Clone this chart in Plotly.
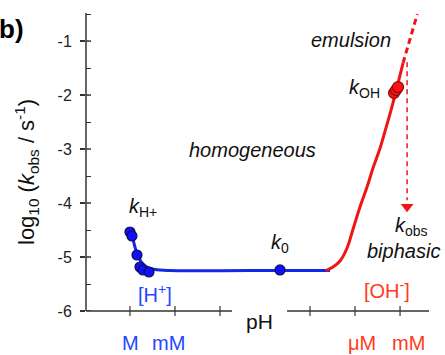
import plotly.graph_objects as go

# ---- data (schematic x: 3 units per decade; y: log10 kobs) ----
blue_fit_x = [0.0, 0.133, 0.333, 0.533, 0.8, 1.133, 1.667, 2.667, 8.0, 13.33]
blue_fit_y = [-4.46, -4.59, -4.815, -4.98, -5.11, -5.185, -5.23, -5.25, -5.25, -5.25]
red_fit_x = [13.07, 13.53, 14.0, 14.47, 14.87, 15.33, 15.8, 16.2, 16.67, 17.0, 17.4, 17.8, 18.2]
red_fit_y = [-5.25, -5.185, -5.074, -4.833, -4.481, -4.074, -3.704, -3.352, -2.981, -2.667, -2.278, -1.852, -1.407]
red_ext_x = [18.2, 19.15]
red_ext_y = [-1.407, -0.5]
h_pts_x = [0.0, 0.133, 0.467, 0.667, 0.867, 1.267]
h_pts_y = [-4.537, -4.611, -4.963, -5.185, -5.241, -5.278]
k0_x = [10.0]
k0_y = [-5.24]
oh_pts_x = [17.6, 17.733, 17.867]
oh_pts_y = [-1.963, -1.907, -1.852]
drop_x = [18.47, 18.47]
drop_y = [-1.39, -3.95]
head_x = [18.47]
head_y = [-4.07]

yticks = [-6, -5, -4, -3, -2, -1]
ytick_labels = ["-6", "-5", "-4", "-3", "-2", "-1"]
yminor = [-5.5, -4.5, -3.5, -2.5, -1.5, -0.5]
xticks = [0, 3, 6, 12, 15, 18]
xaxis_segments = [(-2.93, 6.8), (10.47, 19.93)]

BLUE = "#1428e6"
RED = "#f01414"
TXT_BLUE = "#2447ff"
TXT_RED = "#ff3a1a"
AX = "#333333"
FONT = "Liberation Sans"

fig = go.Figure()
fig.add_trace(go.Scatter(x=blue_fit_x, y=blue_fit_y, mode="lines",
                         line=dict(color=BLUE, width=3, shape="spline"), hoverinfo="skip"))
fig.add_trace(go.Scatter(x=red_fit_x, y=red_fit_y, mode="lines",
                         line=dict(color=RED, width=3, shape="spline"), hoverinfo="skip"))
fig.add_trace(go.Scatter(x=red_ext_x, y=red_ext_y, mode="lines",
                         line=dict(color=RED, width=3, dash="6px,4px"), hoverinfo="skip"))
fig.add_trace(go.Scatter(x=drop_x, y=drop_y, mode="lines",
                         line=dict(color=RED, width=1.5, dash="5px,4px"), hoverinfo="skip"))
fig.add_trace(go.Scatter(x=head_x, y=head_y, mode="markers",
                         marker=dict(symbol="triangle-down", size=11, color=RED, line=dict(width=0)),
                         hoverinfo="skip"))
fig.add_trace(go.Scatter(x=h_pts_x, y=h_pts_y, mode="markers",
                         marker=dict(size=10, color="#1010ff", line=dict(color="#101040", width=1.2))))
fig.add_trace(go.Scatter(x=k0_x, y=k0_y, mode="markers",
                         marker=dict(size=10, color="#1010ff", line=dict(color="#101040", width=1.2))))
fig.add_trace(go.Scatter(x=oh_pts_x, y=oh_pts_y, mode="markers",
                         marker=dict(size=11, color="#ff1010", line=dict(color="#801010", width=1.2))))

shapes = []
# y axis line
shapes.append(dict(type="line", xref="paper", yref="paper", x0=0, x1=0, y0=0, y1=1,
                   line=dict(color=AX, width=1.5)))
# inner halves of major y ticks
for v in yticks:
    shapes.append(dict(type="line", xref="paper", yref="y", x0=0, x1=5 / 343, y0=v, y1=v,
                       line=dict(color=AX, width=1.5)))
# x axis broken line
for a, b in xaxis_segments:
    shapes.append(dict(type="line", xref="x", yref="paper", x0=a, x1=b, y0=0, y1=0,
                       line=dict(color=AX, width=1.5)))
for v in xticks:
    shapes.append(dict(type="line", xref="x", yref="paper", x0=v, x1=v, y0=-5 / 298, y1=5 / 298,
                       line=dict(color=AX, width=1.2)))


def px(xp):
    return (xp - 86) / 343


def py(yp):
    return (311 - yp) / 298


ann = []


def add(text, x, y, size=20, color="#111111", **kw):
    ann.append(dict(text=text, x=px(x), y=py(y), xref="paper", yref="paper", showarrow=False,
                    font=dict(family=FONT, size=size, color=color), xanchor="center", yanchor="middle", **kw))


add("<b>b)</b>", 11, 29, size=26, color="#000000")
add("log<sub>10</sub> (<i>k</i><sub>obs</sub> / s<sup>-1</sup>)", 26, 172, size=22, textangle=-90)
add("<i>homogeneous</i>", 252, 150)
add("<i>emulsion</i>", 351, 40)
add("<i>k</i><sub>OH</sub>", 364, 89)
add("<i>k</i><sub>H+</sub>", 143, 207)
add("<i>k</i><sub>0</sub>", 280, 244)
add("<i>k</i><sub>obs</sub>", 411, 226)
add("<i>biphasic</i>", 403, 251)
add("[H<sup>+</sup>]", 155, 293, color=TXT_BLUE)
add("[OH<sup>-</sup>]", 387, 289, color=TXT_RED)
add("pH", 259, 321, size=21)
add("M", 130, 343, color=TXT_BLUE)
add("mM", 168, 343, color=TXT_BLUE)
add("μM", 362, 343, color=TXT_RED)
add("mM", 408, 343, color=TXT_RED)

fig.update_layout(
    width=445, height=355,
    margin=dict(l=86, r=16, t=13, b=44),
    paper_bgcolor="white", plot_bgcolor="white",
    showlegend=False,
    shapes=shapes, annotations=ann,
    font=dict(family=FONT, size=16, color="#222222"),
    xaxis=dict(range=[-2.93, 19.93], showgrid=False, zeroline=False, showline=False,
               showticklabels=False, ticks=""),
    yaxis=dict(range=[-6, -0.48], showgrid=False, zeroline=False, showline=False,
               tickmode="array", tickvals=yticks, ticktext=ytick_labels,
               ticks="outside", ticklen=5, tickwidth=1.5, tickcolor=AX,
               tickfont=dict(family=FONT, size=16, color="#222222"),
               ticklabelstandoff=5,
               minor=dict(tickmode="array", tickvals=yminor, ticks="inside", ticklen=5,
                          tickwidth=1.2, tickcolor=AX)),
)

fig.write_html("out.html")
